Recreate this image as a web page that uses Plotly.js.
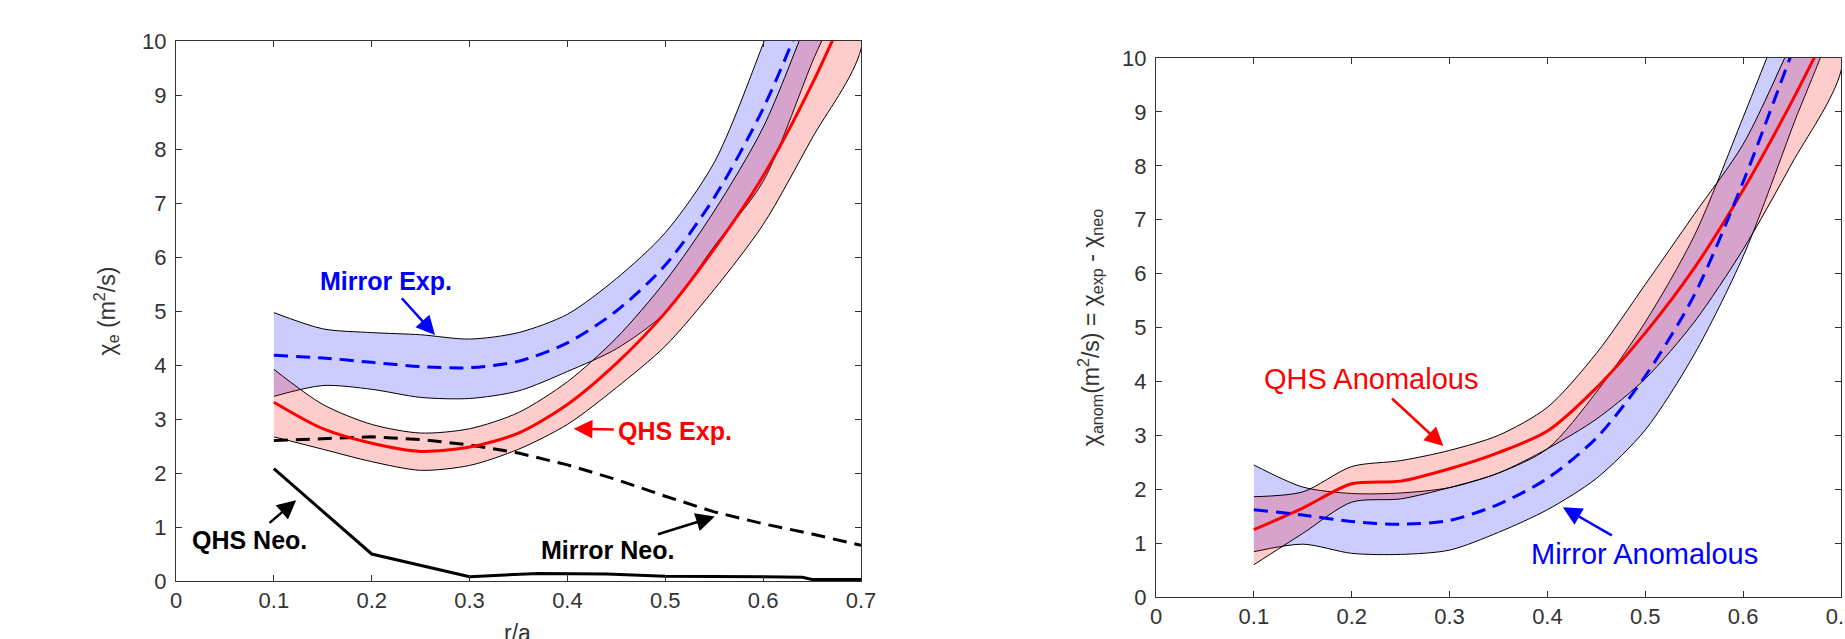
<!DOCTYPE html>
<html>
<head>
<meta charset="utf-8">
<script src="https://cdn.plot.ly/plotly-3.0.1.min.js"></script>
<style>
  html, body { margin: 0; padding: 0; background: #fff; }
  #chart { width: 1845px; height: 639px; }
</style>
</head>
<body>
<div id="chart"></div>
<script>
// ---------- Left panel: chi_e (m^2/s) vs r/a ----------
const rLeft        = [0.10, 0.15, 0.20, 0.25, 0.30, 0.35, 0.40, 0.45, 0.50, 0.55, 0.60, 0.65, 0.70];
const qhsExp       = [3.31, 2.82, 2.55, 2.40, 2.48, 2.74, 3.27, 4.03, 4.97, 6.15, 7.50, 9.20, 11.2];
const qhsExpHi     = [3.92, 3.27, 2.90, 2.74, 2.82, 3.12, 3.69, 4.50, 5.55, 6.85, 8.40, 10.6, 12.8];
const qhsExpLo     = [2.67, 2.44, 2.21, 2.05, 2.14, 2.44, 2.90, 3.58, 4.35, 5.40, 6.60, 8.20, 9.85];
const mirrorExp    = [4.18, 4.13, 4.05, 3.97, 3.95, 4.07, 4.41, 5.00, 5.85, 7.10, 8.75, 10.9, 13.5];
const mirrorExpHi  = [4.97, 4.67, 4.60, 4.56, 4.48, 4.60, 4.94, 5.60, 6.45, 7.75, 9.95, 12.5, 15.0];
const mirrorExpLo  = [3.42, 3.62, 3.55, 3.40, 3.38, 3.52, 3.88, 4.30, 4.97, 6.20, 7.40, 9.60, 11.8];
const rMirrorNeo   = [0.10, 0.15, 0.20, 0.25, 0.30, 0.35, 0.40, 0.45, 0.50, 0.55, 0.60, 0.65, 0.70];
const mirrorNeo    = [2.60, 2.63, 2.67, 2.62, 2.52, 2.37, 2.15, 1.88, 1.57, 1.28, 1.06, 0.87, 0.66];
const rQhsNeo      = [0.10, 0.20, 0.30, 0.37, 0.44, 0.50, 0.60, 0.64, 0.65, 0.70];
const qhsNeo       = [2.08, 0.50, 0.08, 0.14, 0.13, 0.09, 0.08, 0.07, 0.03, 0.03];

// ---------- Right panel: chi_anom = chi_exp - chi_neo ----------
const rRight       = [0.10, 0.15, 0.20, 0.25, 0.30, 0.35, 0.40, 0.45, 0.50, 0.55, 0.60, 0.65, 0.70];
const qhsAnom      = [1.25, 1.65, 2.10, 2.15, 2.38, 2.68, 3.08, 3.88, 4.90, 6.10, 7.55, 9.20, 11.0];
const qhsAnomHi    = [1.86, 1.95, 2.42, 2.53, 2.72, 3.00, 3.52, 4.52, 5.80, 7.10, 8.40, 10.3, 12.3];
const qhsAnomLo    = [0.60, 1.18, 1.76, 1.82, 2.03, 2.30, 2.75, 3.30, 4.05, 5.10, 6.45, 8.05, 9.76];
const mirrorAnom   = [1.62, 1.52, 1.40, 1.35, 1.42, 1.72, 2.20, 2.95, 4.10, 5.60, 7.70, 10.1, 12.5];
const mirrorAnomHi = [2.45, 2.04, 1.92, 1.93, 2.03, 2.30, 2.75, 3.80, 5.10, 6.70, 8.90, 11.2, 13.6];
const mirrorAnomLo = [0.84, 0.98, 0.81, 0.79, 0.87, 1.20, 1.62, 2.20, 3.10, 4.50, 6.32, 8.70, 11.2];

// axis ticks
const xTickVals = [0, 0.1, 0.2, 0.3, 0.4, 0.5, 0.6, 0.7];
const xTickText = ['0', '0.1', '0.2', '0.3', '0.4', '0.5', '0.6', '0.7'];
const yTickVals = [0, 1, 2, 3, 4, 5, 6, 7, 8, 9, 10];

const RED = '#ff0000', BLUE = '#0000ff';
const FONT = 'Liberation Sans, Arial, sans-serif';
const AXC = '#333';

function band(xs, hi, lo, fill, xa, ya) {
  return {
    x: xs.concat(xs.slice().reverse()),
    y: hi.concat(lo.slice().reverse()),
    xaxis: xa, yaxis: ya,
    type: 'scatter', mode: 'lines', fill: 'toself',
    fillcolor: fill, line: {color: '#000', width: 1, shape: 'spline', smoothing: 0.8},
    hoverinfo: 'skip', showlegend: false
  };
}
function line(xs, ys, color, dash, xa, ya, smooth) {
  const ln = {color: color, width: 3, dash: dash};
  if (smooth) { ln.shape = 'spline'; ln.smoothing = 0.8; }
  return {
    x: xs, y: ys, xaxis: xa, yaxis: ya,
    type: 'scatter', mode: 'lines', line: ln, showlegend: false
  };
}

const BLUEFILL = 'rgba(0,0,255,0.2)';
const REDFILL = 'rgba(255,0,0,0.2)';
const DASH = '14px,8px';

const traces = [
  band(rLeft, mirrorExpHi, mirrorExpLo, BLUEFILL, 'x', 'y'),
  band(rLeft, qhsExpHi, qhsExpLo, REDFILL, 'x', 'y'),
  line(rMirrorNeo, mirrorNeo, '#000', DASH, 'x', 'y', false),
  line(rQhsNeo, qhsNeo, '#000', 'solid', 'x', 'y', false),
  line(rLeft, qhsExp, RED, 'solid', 'x', 'y', true),
  line(rLeft, mirrorExp, BLUE, DASH, 'x', 'y', true),

  band(rRight, mirrorAnomHi, mirrorAnomLo, BLUEFILL, 'x2', 'y2'),
  band(rRight, qhsAnomHi, qhsAnomLo, REDFILL, 'x2', 'y2'),
  line(rRight, qhsAnom, RED, 'solid', 'x2', 'y2', true),
  line(rRight, mirrorAnom, BLUE, DASH, 'x2', 'y2', true)
];

function xaxisDef(domain, anchor) {
  return {
    domain: domain, anchor: anchor, range: [0, 0.7],
    tickmode: 'array', tickvals: xTickVals, ticktext: xTickText,
    ticks: 'inside', ticklen: 6, tickwidth: 1, tickcolor: AXC,
    showline: true, linecolor: AXC, linewidth: 1, mirror: 'ticks',
    showgrid: false, zeroline: false,
    tickfont: {family: FONT, size: 22, color: AXC},
    ticklabelstandoff: 0, ticklabeloverflow: 'allow'
  };
}
function yaxisDef(domain, anchor, title, standoff) {
  return {
    domain: domain, anchor: anchor, range: [0, 10],
    tickmode: 'array', tickvals: yTickVals,
    ticks: 'inside', ticklen: 6, tickwidth: 1, tickcolor: AXC,
    showline: true, linecolor: AXC, linewidth: 1, mirror: 'ticks',
    showgrid: false, zeroline: false,
    tickfont: {family: FONT, size: 22, color: AXC},
    ticklabelstandoff: 4, ticklabeloverflow: 'allow',
    title: {text: title, font: {family: FONT, size: 23, color: AXC}, standoff: standoff}
  };
}

// label with arrow: (hx,hy) arrow tip, (lx,ly) label centre, data coordinates
function callout(xa, ya, hx, hy, lx, ly, text, color, size, bold) {
  return {
    xref: xa, yref: ya, axref: xa, ayref: ya,
    x: hx, y: hy, ax: lx, ay: ly,
    text: bold ? '<b>' + text + '</b>' : text,
    font: {family: FONT, size: size, color: color},
    showarrow: true, arrowhead: 2, arrowsize: 1.5, arrowwidth: 2.5,
    arrowcolor: color, standoff: 0, startstandoff: 4, borderpad: 0
  };
}
function axisTitle(x, y, text) {
  return {
    xref: 'paper', yref: 'paper', x: x, y: y, showarrow: false,
    text: text, xanchor: 'center', yanchor: 'middle',
    font: {family: FONT, size: 23, color: AXC}
  };
}

const W = 1845, H = 639;
const annotations = [
  callout('x', 'y', 0.2647, 4.556, 0.2146, 5.56, 'Mirror Exp.', BLUE, 25, true),
  callout('x', 'y', 0.4064, 2.82, 0.5102, 2.78, 'QHS Exp.', RED, 25, true),
  callout('x', 'y', 0.1228, 1.496, 0.0751, 0.759, 'QHS Neo.', '#000', 25, true),
  callout('x', 'y', 0.5506, 1.194, 0.4413, 0.574, 'Mirror Neo.', '#000', 25, true),
  callout('x2', 'y2', 0.2937, 2.80, 0.2200, 4.04, 'QHS Anomalous', RED, 29, false),
  callout('x2', 'y2', 0.4158, 1.664, 0.4987, 0.80, 'Mirror Anomalous', BLUE, 29, false),
  axisTitle(517 / W, (H - 633) / H, 'r/a'),
  axisTitle(1498 / W, (H - 649) / H, 'r/a')
];

const layout = {
  width: W, height: H,
  margin: {l: 0, r: 0, t: 0, b: 0},
  paper_bgcolor: '#fff', plot_bgcolor: '#fff',
  showlegend: false,
  font: {family: FONT},
  xaxis: xaxisDef([176 / W, 861 / W], 'y'),
  yaxis: yaxisDef([(H - 581) / H, (H - 41) / H], 'x', '\u03c7<sub>e</sub> (m<sup>2</sup>/s)', 20),
  xaxis2: xaxisDef([1156 / W, 1841 / W], 'y2'),
  yaxis2: yaxisDef([(H - 597) / H, (H - 58) / H], 'x2',
    '\u03c7<sub>anom</sub>(m<sup>2</sup>/s) = \u03c7<sub>exp</sub> - \u03c7<sub>neo</sub>', 16),
  annotations: annotations
};

Plotly.newPlot('chart', traces, layout, {displayModeBar: false, staticPlot: true});
</script>
</body>
</html>
